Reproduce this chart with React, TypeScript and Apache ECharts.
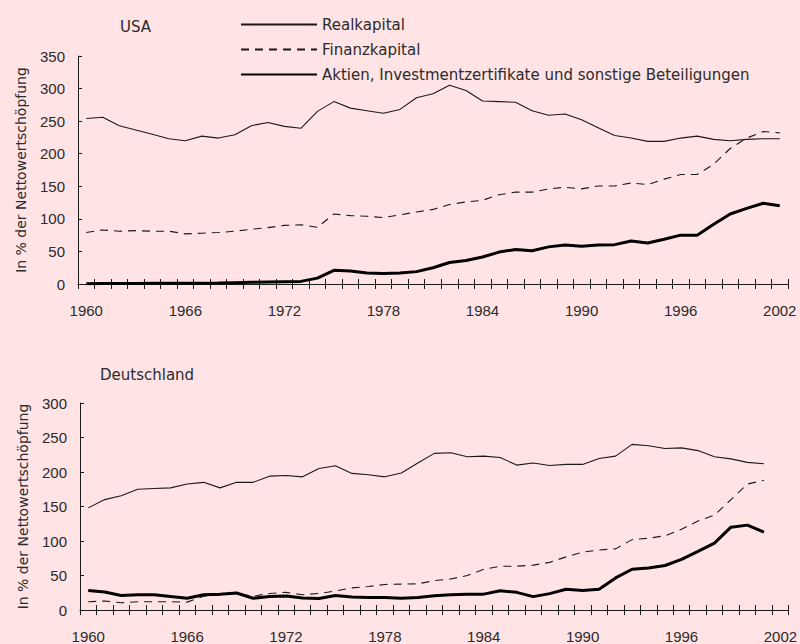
import React, { useEffect, useRef } from "react";
import * as echarts from "echarts";

const years = [
  "1960", "1961", "1962", "1963", "1964", "1965", "1966", "1967", "1968", "1969",
  "1970", "1971", "1972", "1973", "1974", "1975", "1976", "1977", "1978", "1979",
  "1980", "1981", "1982", "1983", "1984", "1985", "1986", "1987", "1988", "1989",
  "1990", "1991", "1992", "1993", "1994", "1995", "1996", "1997", "1998", "1999",
  "2000", "2001", "2002",
];

const seriesNames = [
  "Realkapital",
  "Finanzkapital",
  "Aktien, Investmentzertifikate und sonstige Beteiligungen",
];

const usaReal = [254, 256, 243, 236.5, 230, 223, 220, 227, 224, 229, 243, 248, 242, 239, 265, 280, 270, 266, 262, 268, 286, 292, 305, 297, 281, 280, 279, 266, 259, 261, 252, 240, 228, 224, 219, 219, 224, 227, 222, 220, 222, 223, 223];
const usaFin = [79, 83, 81, 82, 81, 81, 77, 78, 79, 81, 84, 86.5, 90, 91, 87, 107.5, 105, 104, 102, 106, 110.6, 114.5, 122, 126, 128.5, 137, 141, 141, 146, 148.5, 146, 150.5, 150.5, 155, 152.6, 161, 168, 168, 184, 208, 224, 234, 232];
const usaAkt = [0.5, 0.6, 0.7, 0.8, 1, 1, 1, 1.2, 1.5, 2, 2.5, 3, 3.5, 4, 9, 21, 20, 17, 16, 17, 19, 25, 33, 36, 41.5, 49, 53, 51, 57, 60, 58, 60, 60.4, 66, 63, 68.6, 75, 75, 91.6, 107.5, 116, 124, 120];

const deReal = [148, 160, 165.5, 175, 176, 177, 182.5, 185, 177, 185, 185, 194, 195, 193, 205, 209, 198, 196, 193, 198.6, 213, 227, 228, 222, 223, 221, 210, 213, 209.5, 211, 211, 219.5, 223, 240, 238, 234, 235, 231, 222, 219, 214, 212];
const deFin = [12, 13, 10.4, 12, 12, 12, 11.4, 20, 22, 24, 20, 24, 25.6, 22, 24, 27.5, 32, 34, 37, 37.5, 38, 42.5, 45, 50, 59, 63.5, 63.5, 65, 69, 77, 84, 87, 88.6, 102, 104, 107.6, 117, 129, 137.5, 160, 182.5, 188];
const deAkt = [28.4, 26, 21, 22, 22, 19.4, 17, 22, 23, 24.6, 17, 19.4, 20.4, 17.5, 16.6, 21, 19, 18, 18, 17, 18, 20.5, 22, 23, 23, 28, 25.6, 19.4, 23.7, 30, 28.4, 30, 46.5, 59, 61, 64.5, 73.5, 85, 97, 120, 123, 113];

const usaTicks = { max: 350, interval: 50 };
const deTicks = { max: 300, interval: 50 };

const NUM_FONT = "'Liberation Sans', Arial, sans-serif";
const WORD_FONT = "'DejaVu Sans', sans-serif";
const LINE = "#1a1a1a";
const TEXT = "#2b2b2b";
const BG = "#ffe3e5";
const yName = "In % der Nettowertschöpfung";

function xAxesFor(gridIndex: number) {
  return [
    {
      type: "category",
      gridIndex,
      position: "bottom",
      data: years,
      boundaryGap: true,
      axisLine: { show: true, lineStyle: { color: LINE, width: 1 } },
      axisTick: { show: true, interval: 0, length: 5, inside: false, lineStyle: { color: LINE, width: 1 } },
      axisLabel: { interval: 5, color: TEXT, fontSize: 15, fontFamily: NUM_FONT, margin: 19 },
      splitLine: { show: false },
    },
    {
      type: "category",
      gridIndex,
      position: "bottom",
      data: years,
      boundaryGap: true,
      axisLine: { show: false },
      axisTick: { show: true, interval: 0, length: 5, inside: true, lineStyle: { color: LINE, width: 1 } },
      axisLabel: { show: false },
      splitLine: { show: false },
    },
  ];
}

function yAxisFor(gridIndex: number, ticks: { max: number; interval: number }) {
  return {
    type: "value",
    gridIndex,
    min: 0,
    max: ticks.max,
    interval: ticks.interval,
    axisLine: { show: true, lineStyle: { color: LINE, width: 1 } },
    axisTick: { show: true, inside: true, length: 4, lineStyle: { color: LINE } },
    axisLabel: { color: TEXT, fontSize: 15, fontFamily: NUM_FONT, margin: 13 },
    splitLine: { show: false },
    name: yName,
    nameLocation: "middle",
    nameRotate: 90,
    nameGap: 50,
    nameTextStyle: { color: TEXT, fontSize: 14, fontFamily: WORD_FONT },
  };
}

function seriesFor(xAxisIndex: number, yAxisIndex: number, real: number[], fin: number[], akt: number[]) {
  return [
    {
      name: seriesNames[0],
      type: "line",
      xAxisIndex,
      yAxisIndex,
      data: real,
      symbol: "none",
      lineStyle: { color: LINE, width: 1.1, type: "solid" },
      itemStyle: { color: LINE },
    },
    {
      name: seriesNames[1],
      type: "line",
      xAxisIndex,
      yAxisIndex,
      data: fin,
      symbol: "none",
      lineStyle: { color: LINE, width: 1.1, type: [8, 6] },
      itemStyle: { color: LINE },
    },
    {
      name: seriesNames[2],
      type: "line",
      xAxisIndex,
      yAxisIndex,
      data: akt,
      symbol: "none",
      lineStyle: { color: "#000", width: 3, type: "solid" },
      itemStyle: { color: "#000" },
    },
  ];
}

export default function App() {
  const ref = useRef<HTMLDivElement>(null);

  useEffect(() => {
    if (!ref.current) return;
    const chart = echarts.init(ref.current, undefined, { renderer: "svg" });
    const titleStyle = { color: TEXT, fontSize: 15, fontWeight: "normal", fontFamily: WORD_FONT };
    const option = {
      animation: false,
      backgroundColor: BG,
      textStyle: { fontFamily: WORD_FONT },
      title: [
        { text: "USA", left: 120, top: 19, padding: 0, textStyle: titleStyle },
        { text: "Deutschland", left: 100, top: 367, padding: 0, textStyle: titleStyle },
      ],
      legend: {
        data: seriesNames,
        orient: "vertical",
        left: 240,
        top: 17,
        padding: 0,
        itemWidth: 76,
        itemHeight: 14,
        itemGap: 10,
        selectedMode: false,
        itemStyle: { color: "rgba(0,0,0,0)", borderColor: "rgba(0,0,0,0)", borderWidth: 0, opacity: 0 },
        textStyle: { color: TEXT, fontSize: 15, fontFamily: WORD_FONT },
      },
      grid: [
        { left: 78, top: 56, width: 710, height: 228, containLabel: false },
        { left: 80, top: 403, width: 714, height: 210, containLabel: false },
      ],
      xAxis: [...xAxesFor(0), ...xAxesFor(1)],
      yAxis: [yAxisFor(0, usaTicks), yAxisFor(1, deTicks)],
      series: [
        ...seriesFor(0, 0, usaReal, usaFin, usaAkt),
        ...seriesFor(2, 1, deReal, deFin, deAkt),
      ],
    };
    chart.setOption(option as any);
    return () => chart.dispose();
  }, []);

  return (
    <div
      ref={ref}
      style={{ position: "fixed", left: 0, top: 0, width: 800, height: 644 }}
    />
  );
}
